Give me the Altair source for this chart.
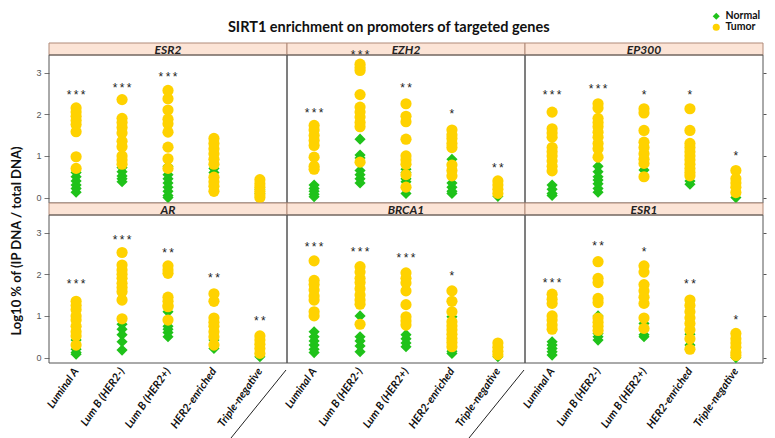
import altair as alt
import pandas as pd

GENES = ["ESR2", "EZH2", "EP300", "AR", "BRCA1", "ESR1"]
SUBTYPES = ["Luminal A", "Lum B (HER2-)", "Lum B (HER2+)", "HER2-enriched", "Triple-negative"]
GROUPS = ["Normal", "Tumor"]

# values per subtype (Luminal A, Lum B HER2-, Lum B HER2+, HER2-enriched, Triple-negative)
ESR2_NORMAL = [[0.6, 0.5, 0.4, 0.3, 0.22, 0.13], [0.72, 0.62, 0.52, 0.45, 0.38],
               [0.75, 0.55, 0.45, 0.35, 0.25, 0.15, 0.05, 0.0], [0.7, 0.6], [0.1, 0.2]]
ESR2_TUMOR = [[2.15, 2.05, 1.95, 1.85, 1.75, 1.58, 0.98, 0.7],
              [2.35, 1.9, 1.8, 1.68, 1.55, 1.35, 1.22, 1.0, 0.9, 0.8],
              [2.57, 2.37, 2.1, 1.88, 1.77, 1.57, 1.21, 0.93, 0.7],
              [1.42, 1.3, 1.17, 1.05, 0.92, 0.8, 0.49, 0.38, 0.27, 0.15],
              [0.43, 0.33, 0.25, 0.15, 0.07, 0.0]]
EZH2_NORMAL = [[0.3, 0.22, 0.15, 0.08, 0.02], [1.4, 1.02, 0.95, 0.65, 0.55, 0.45, 0.35],
               [0.68, 0.6, 0.45, 0.38, 0.1], [0.92, 0.35, 0.25, 0.15, 0.1], [0.03]]
EZH2_TUMOR = [[1.73, 1.62, 1.49, 1.37, 1.25, 0.97, 0.75, 0.68],
              [3.2, 3.12, 3.05, 2.47, 2.17, 2.05, 1.93, 1.8, 1.7, 0.85],
              [2.25, 1.95, 1.82, 1.4, 1.0, 0.9, 0.8, 0.55, 0.25],
              [1.62, 1.5, 1.42, 1.3, 1.2, 0.78, 0.65, 0.52],
              [0.4, 0.3, 0.2, 0.1]]
EP300_NORMAL = [[0.3, 0.2, 0.1, 0.05], [0.75, 0.62, 0.5, 0.42, 0.33, 0.22, 0.13],
                [0.66], [0.4, 0.32], [0.0]]
EP300_TUMOR = [[2.05, 1.65, 1.55, 1.45, 1.2, 1.1, 1.0, 0.88, 0.75, 0.64],
               [2.25, 2.15, 1.9, 1.8, 1.7, 1.57, 1.45, 1.3, 1.17, 0.97],
               [2.13, 2.03, 1.61, 1.33, 1.2, 1.05, 0.92, 0.82, 0.5],
               [2.13, 1.61, 1.3, 1.2, 1.1, 1.0, 0.9, 0.8, 0.7, 0.6, 0.52],
               [0.65, 0.45, 0.35, 0.25, 0.12]]
AR_NORMAL = [[0.42, 0.2, 0.12, 0.08], [0.8, 0.68, 0.55, 0.38, 0.18],
             [1.1, 0.75, 0.68, 0.6, 0.5], [0.42, 0.22], [0.02]]
AR_TUMOR = [[1.35, 1.25, 1.15, 1.0, 0.9, 0.75, 0.62, 0.52, 0.3],
            [2.52, 2.22, 2.1, 2.0, 1.9, 1.78, 1.68, 1.58, 1.38, 0.93],
            [2.2, 2.1, 2.02, 1.45, 1.35, 1.25, 1.22, 0.9],
            [1.53, 1.35, 0.95, 0.85, 0.75, 0.62, 0.5, 0.3],
            [0.52, 0.42, 0.32, 0.22, 0.1]]
BRCA1_NORMAL = [[0.62, 0.5, 0.4, 0.3, 0.2, 0.12], [1.0, 0.5, 0.4, 0.28, 0.14],
                [0.55, 0.45, 0.35, 0.26], [0.98, 0.15, 0.1], [0.02]]
BRCA1_TUMOR = [[2.32, 1.85, 1.75, 1.62, 1.48, 1.38, 1.1, 1.0],
               [2.18, 2.05, 1.9, 1.8, 1.65, 1.5, 1.38, 1.28, 0.8],
               [2.03, 1.9, 1.79, 1.6, 1.27, 0.98, 0.88, 0.78],
               [1.6, 1.35, 1.1, 0.86, 0.76, 0.66, 0.56, 0.46, 0.36, 0.26],
               [0.35, 0.25, 0.15, 0.07]]
ESR1_NORMAL = [[0.38, 0.3, 0.22, 0.14, 0.06], [1.0, 0.58, 0.5, 0.42],
               [0.82, 0.55, 0.5], [0.56, 0.3], [0.0]]
ESR1_TUMOR = [[1.52, 1.4, 1.3, 1.0, 0.9, 0.78, 0.68],
              [2.3, 1.9, 1.8, 1.42, 1.32, 0.95, 0.85, 0.75, 0.65],
              [2.2, 2.05, 1.75, 1.6, 1.45, 1.3, 0.95, 0.7],
              [1.38, 1.25, 1.1, 0.95, 0.82, 0.66, 0.45, 0.2],
              [0.58, 0.45, 0.35, 0.25, 0.12, 0.05]]

# significance labels and their heights
STARS = {
    "ESR2": ["***", "***", "***", "", ""],
    "EZH2": ["***", "***", "**", "*", "**"],
    "EP300": ["***", "***", "*", "*", "*"],
    "AR": ["***", "***", "**", "**", "**"],
    "BRCA1": ["***", "***", "***", "*", ""],
    "ESR1": ["***", "**", "*", "**", "*"],
}
STAR_Y = {
    "ESR2": [2.54, 2.70, 2.97, 0, 0],
    "EZH2": [2.10, 3.50, 2.70, 2.08, 0.78],
    "EP300": [2.53, 2.68, 2.53, 2.53, 1.07],
    "AR": [1.83, 2.90, 2.58, 1.98, 0.95],
    "BRCA1": [2.72, 2.60, 2.46, 2.02, 0],
    "ESR1": [1.86, 2.76, 2.60, 1.83, 0.98],
}

NORMAL = {"ESR2": ESR2_NORMAL, "EZH2": EZH2_NORMAL, "EP300": EP300_NORMAL,
          "AR": AR_NORMAL, "BRCA1": BRCA1_NORMAL, "ESR1": ESR1_NORMAL}
TUMOR = {"ESR2": ESR2_TUMOR, "EZH2": EZH2_TUMOR, "EP300": EP300_TUMOR,
         "AR": AR_TUMOR, "BRCA1": BRCA1_TUMOR, "ESR1": ESR1_TUMOR}

GREEN = "#1FC21A"
YELLOW = "#FFD200"
W = 238
H = 160
HDR = 12

rows = []
for gi, g in enumerate(GENES):
    r, c = divmod(gi, 3)
    base = dict(gene=g, row=r, col=c)
    rows.append(dict(base, kind="header"))
    if r == 1 and c < 2:
        rows.append(dict(base, kind="divider"))
    for si, s in enumerate(SUBTYPES):
        for v in NORMAL[g][si]:
            rows.append(dict(base, kind="point", subtype=s, group="Normal", value=v, order=0))
        for v in TUMOR[g][si]:
            rows.append(dict(base, kind="point", subtype=s, group="Tumor", value=v, order=1))
        if STARS[g][si]:
            rows.append(dict(base, kind="star", subtype=s,
                             label="\u2009".join(STARS[g][si]), value=STAR_Y[g][si]))

df = pd.DataFrame(rows)

xscale = alt.Scale(type="point", domain=SUBTYPES, padding=0.59)
yscale = alt.Scale(domain=[-0.13, 3.42], range=[H, HDR], nice=False, zero=False)

xenc = alt.X("subtype:N", scale=xscale, title=None,
             axis=alt.Axis(labelAngle=-55, labelFont="Lato", labelFontStyle="italic",
                           labelFontWeight="bold", labelFontSize=11, labelColor="#111",
                           domain=False, ticks=False, labelPadding=6, labelAlign="right",
                           labelBaseline="middle"))
yenc = alt.Y("value:Q", scale=yscale, title=None,
             axis=alt.Axis(values=[0, 1, 2, 3], grid=False, domain=False, tickColor="#777",
                           tickSize=5, labelFont="Liberation Sans", labelFontSize=9,
                           labelColor="#555", labelPadding=3))

header = alt.Chart().mark_rect(fill="#FCE4D6", stroke="#B08A78", strokeWidth=1).encode(
    x=alt.value(0), x2=alt.value(W), y=alt.value(0), y2=alt.value(HDR)
).transform_filter("datum.kind == 'header'")

header_text = alt.Chart().mark_text(font="Lato", fontStyle="italic", fontWeight="bold",
                                     fontSize=12, color="#222", baseline="middle").encode(
    x=alt.value(W / 2), y=alt.value(HDR / 2 + 0.5), text="gene:N"
).transform_filter("datum.kind == 'header'")

border = alt.Chart().mark_rect(fillOpacity=0, stroke="#555", strokeWidth=1).encode(
    x=alt.value(0), x2=alt.value(W), y=alt.value(HDR), y2=alt.value(H)
).transform_filter("datum.kind == 'header'")

legend_cfg = dict(orient="none", legendX=662, legendY=-32, title=None)
points = alt.Chart().mark_point(filled=True, opacity=1, size=125, strokeWidth=0).encode(
    x=xenc, y=yenc,
    color=alt.Color("group:N", scale=alt.Scale(domain=GROUPS, range=[GREEN, YELLOW]),
                    legend=alt.Legend(labelFont="Lato", labelFontWeight="bold", labelFontSize=10.5,
                                      labelColor="#111", symbolSize=50, rowPadding=0,
                                      labelOffset=4, **legend_cfg)),
    shape=alt.Shape("group:N", scale=alt.Scale(domain=GROUPS, range=["diamond", "circle"]),
                    legend=alt.Legend(**legend_cfg)),
    order=alt.Order("order:Q"),
).transform_filter("datum.kind == 'point'")

stars = alt.Chart().mark_text(font="Liberation Sans", fontSize=12, color="#222",
                              baseline="alphabetic", dy=7).encode(
    x=alt.X("subtype:N", scale=xscale),
    y=alt.Y("value:Q", scale=yscale,
            axis=alt.Axis(orient="right", values=[0, 1, 2, 3], labels=False, grid=False,
                          domain=False, ticks=True, tickSize=3, tickColor="#555", title=None)),
    text="label:N"
).transform_filter("datum.kind == 'star'")

divider = alt.Chart().mark_rule(color="#222", strokeWidth=1).encode(
    x=alt.value(W - 1), x2=alt.value(W - 56), y=alt.value(H + 7), y2=alt.value(H + 75)
).transform_filter("datum.kind == 'divider'")

layered = alt.layer(header, border, points, stars, header_text, divider, data=df).resolve_axis(
    y="independent").properties(width=W, height=H)

chart = layered.facet(
    row=alt.Row("row:O", header=alt.Header(labels=False, title="Log10  % of (IP DNA / total DNA)",
                                            titleFont="Lato", titleFontSize=13,
                                            titleFontWeight="bold", titleColor="#111",
                                            titlePadding=1)),
    column=alt.Column("col:O", header=alt.Header(labels=False, title=None)),
    spacing=0,
).properties(
    bounds="flush",
    title=alt.TitleParams("SIRT1 enrichment on promoters of targeted genes", font="Lato",
                          fontSize=14.5, fontWeight="bold", color="#111", anchor="middle",
                          offset=-24),
    padding={"left": 2, "top": 3, "right": 0, "bottom": 0},
).configure_view(stroke=None)

chart.save("out.html", embed_options={"renderer": "svg", "actions": False})
